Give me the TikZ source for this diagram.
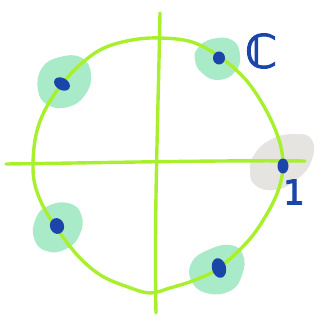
\documentclass[tikz,border=0pt]{standalone}
\usepackage{fontspec}
\newfontfamily\inkfont[FakeBold=2.5]{DejaVu Sans}
\usetikzlibrary{calc}
\definecolor{limeline}{HTML}{A8F02E}
\definecolor{mintblob}{HTML}{A9EBC9}
\definecolor{greyblob}{HTML}{E6E4E1}
\definecolor{inkblue}{HTML}{1B45A8}

\begin{document}
\begin{tikzpicture}[x=1pt, y=-1pt,
    stroke/.style={draw=limeline, line width=3.4pt, line cap=round, line join=round},
    inkdot/.style={fill=inkblue}]
  \useasboundingbox (0,0) rectangle (326,323);

  % Manchas de fondo
  \fill[mintblob] plot[smooth cycle, tension=0.8] coordinates {(42,68) (60,57) (82,58) (91,75) (85,95) (68,107) (48,105) (38,90)};
  \fill[mintblob] plot[smooth cycle, tension=0.8] coordinates {(198,48) (212,39) (232,40) (240,55) (235,72) (218,80) (202,73) (195,60)};
  \fill[greyblob] plot[smooth cycle, tension=0.8] coordinates {(254,155) (270,140) (294,134) (312,140) (311,162) (296,180) (275,190) (255,185) (250,170)};
  \fill[mintblob] plot[smooth cycle, tension=0.8] coordinates {(36,218) (48,206) (68,203) (81,214) (80,234) (66,249) (46,251) (34,238)};
  \fill[mintblob] plot[smooth cycle, tension=0.8] coordinates {(192,262) (208,250) (230,245) (243,255) (242,275) (230,291) (206,293) (191,280)};

  % Ejes
  \draw[stroke] (160,13) .. controls (158,120) and (154,220) .. (156,313);
  \draw[stroke] (6,164) .. controls (90,163) and (220,160) .. (305,161);

  % Circunferencia
  \draw[stroke] plot[smooth cycle, tension=0.6] coordinates {
    (160,38) (192,42) (220,57) (246,80) (266,110) (279,140) (283,165)
    (279,188) (268,212) (249,240) (219,268) (195,280) (170,288) (150,293)
    (128,287) (102,276) (80,258) (60,233) (44,208) (35,185) (33,163)
    (36,135) (45,110) (62,84) (82,63) (104,48) (132,40)};

  % Puntos
  \coordinate (ul) at (62,84);
  \coordinate (ur) at (219,58);
  \coordinate (one) at (283,166);
  \coordinate (ll) at (57,226);
  \coordinate (lr) at (219,268);
  \fill[inkdot, rotate around={-30:(ul)}] (ul) ellipse (8.5pt and 6pt);
  \fill[inkdot] (ur) ellipse (6pt and 6.5pt);
  \fill[inkdot] (one) ellipse (5.5pt and 7.5pt);
  \fill[inkdot, rotate around={20:(ll)}] (ll) ellipse (7pt and 8pt);
  \fill[inkdot, rotate around={15:(lr)}] (lr) ellipse (7pt and 10pt);

  % Etiquetas
  \node[text=inkblue, font=\inkfont\fontsize{46}{46}\selectfont] (cset) at (261,51) {ℂ};
  \node[text=inkblue, font=\inkfont\fontsize{34}{34}\selectfont] (lbl1) at (294,192) {1};
\end{tikzpicture}
\end{document}
